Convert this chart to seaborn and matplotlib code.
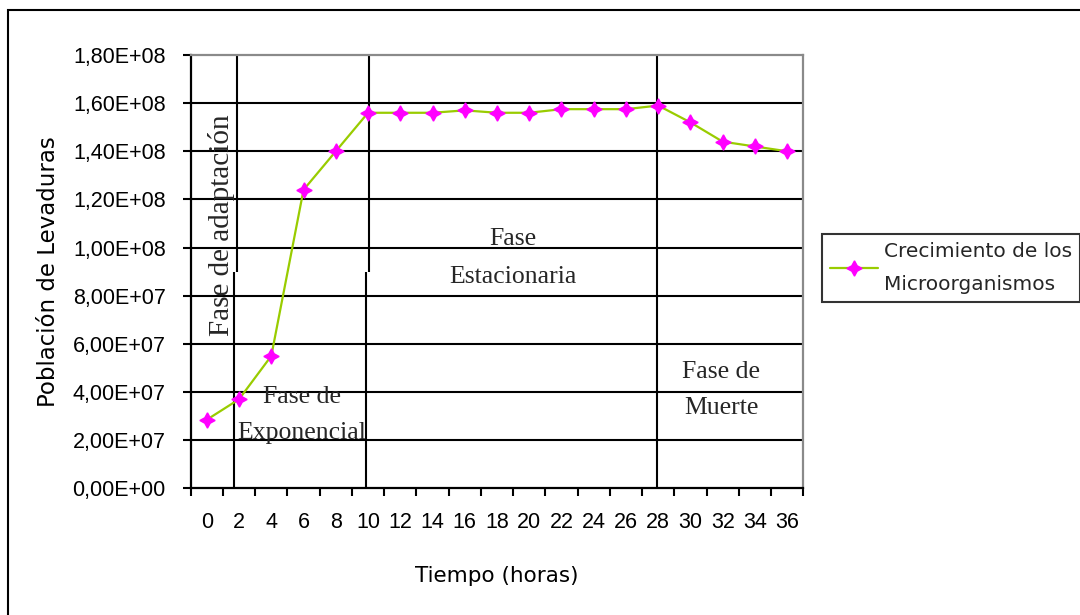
import matplotlib
matplotlib.use("Agg")
import matplotlib.pyplot as plt
import matplotlib.patches as mpatches
from matplotlib.ticker import FuncFormatter, FixedLocator
import seaborn as sns
import pandas as pd

# Growth curve data: sampling times (hours) and yeast population
horas = [0, 2, 4, 6, 8, 10, 12, 14, 16, 18, 20, 22, 24, 26, 28, 30, 32, 34, 36]
poblacion = [2.85e7, 3.70e7, 5.50e7, 1.24e8, 1.40e8, 1.56e8, 1.56e8, 1.56e8,
             1.57e8, 1.56e8, 1.56e8, 1.575e8, 1.575e8, 1.575e8, 1.59e8,
             1.52e8, 1.44e8, 1.42e8, 1.40e8]
serie = "Crecimiento de los\nMicroorganismos"

# Phase boundaries (hours): upper and lower segments of each divider
limites_sup = [1.85, 10.06, 27.91]
limites_inf = [1.71, 9.86, 27.91]
corte = 9.0e7

fases = ["Fase de adaptación", "Fase de\nExponencial", "Fase\nEstacionaria", "Fase de\nMuerte"]

y_ticks = [0, 2e7, 4e7, 6e7, 8e7, 1e8, 1.2e8, 1.4e8, 1.6e8, 1.8e8]

sns.set_style("white")
plt.rcParams["font.family"] = ["DejaVu Sans"]

W, H = 1080, 615
fig = plt.figure(figsize=(W / 100, H / 100), dpi=100)
ax = fig.add_axes([190.7 / W, 1 - 488.3 / H, 612.6 / W, 433.3 / H])

df = pd.DataFrame({"horas": horas, "poblacion": poblacion})

# horizontal gridlines
for v in y_ticks[1:-1]:
    ax.axhline(v, color="black", lw=1.5, zorder=1)

# phase dividers
for xs, xi in zip(limites_sup, limites_inf):
    ax.vlines(xs, corte, y_ticks[-1], color="black", lw=1.5, zorder=1)
    ax.vlines(xi, 0, corte, color="black", lw=1.5, zorder=1)

star = (4, 1, 0)
sns.lineplot(data=df, x="horas", y="poblacion", ax=ax, color="#99CC00",
             lw=1.6, marker=star, markersize=11, markerfacecolor="#FF00FF",
             markeredgecolor="#FF00FF", markeredgewidth=1.0, label=serie,
             legend=False, zorder=3)

ax.set_xlim(-1, 37)
ax.set_ylim(0, 1.8e8)

# x axis: category boundaries carry tick marks, centres carry labels
ax.xaxis.set_major_locator(FixedLocator(horas))
ax.xaxis.set_minor_locator(FixedLocator([h - 1 for h in horas] + [horas[-1] + 1]))
ax.set_xticklabels([str(h) for h in horas])
ax.tick_params(axis="x", which="major", length=0, pad=17)
ax.tick_params(axis="x", which="minor", length=6, width=1.5, color="black",
               direction="out", bottom=True)

ax.yaxis.set_major_locator(FixedLocator(y_ticks))
ax.yaxis.set_major_formatter(FuncFormatter(lambda v, p: f"{v:.2E}".replace(".", ",")))
ax.tick_params(axis="y", length=6, width=1.5, color="black", direction="out",
               left=True, pad=12)

for lab in ax.get_xticklabels() + ax.get_yticklabels():
    lab.set_fontfamily("Liberation Sans")
    lab.set_fontsize(15.5)
    lab.set_color("black")

for s in ["left", "bottom"]:
    ax.spines[s].set_color("black")
    ax.spines[s].set_linewidth(1.6)
for s in ["top", "right"]:
    ax.spines[s].set_color("#8a8a8a")
    ax.spines[s].set_linewidth(1.6)

ax.set_xlabel("Tiempo (horas)", fontsize=15.5, color="black", labelpad=24)
ax.set_ylabel("Población de Levaduras", fontsize=16.5, color="black", labelpad=9)

# phase annotations
serif = "Liberation Serif"
ax.text(0.0495, 0.6077, fases[0], transform=ax.transAxes, rotation=90,
        ha="center", va="center", fontsize=21, family=serif, zorder=4)
ax.text(0.1817, 0.169, fases[1], transform=ax.transAxes, ha="center",
        va="center", fontsize=18.5, family=serif, linespacing=1.87, zorder=4)
ax.text(0.526, 0.5315, fases[2], transform=ax.transAxes, ha="center",
        va="center", fontsize=18.5, family=serif, linespacing=1.97, zorder=4)
ax.text(0.8657, 0.2269, fases[3], transform=ax.transAxes, ha="center",
        va="center", fontsize=18.5, family=serif, linespacing=1.87, zorder=4)

# legend outside the plot area
handles, labels = ax.get_legend_handles_labels()
leg = fig.legend(handles, labels, loc="upper left",
                 bbox_to_anchor=(821.7 / W, 1 - 234 / H), frameon=True,
                 fancybox=False, fontsize=14.5, handlelength=2.4,
                 handletextpad=0.3, borderpad=0.4, borderaxespad=0)
leg.get_frame().set_edgecolor("black")
leg.get_frame().set_linewidth(1.5)
for t in leg.get_texts():
    t.set_linespacing(1.93)

# outer chart border
fig.patches.append(mpatches.Rectangle((8 / W, -0.1), 1.2, 1 - 10 / H + 0.1,
                                      transform=fig.transFigure, fill=False,
                                      edgecolor="black", lw=1.5))

fig.savefig("out.png", dpi=100)
